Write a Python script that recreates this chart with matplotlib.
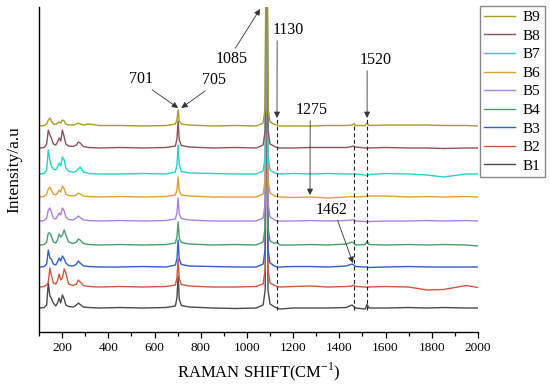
import matplotlib
matplotlib.use("Agg")
import matplotlib.pyplot as plt

plt.rcParams.update({
    "font.family": "Liberation Serif",
    "mathtext.fontset": "custom",
    "mathtext.rm": "Liberation Serif",
    "axes.spines.top": False,
    "axes.spines.right": False,
    "axes.linewidth": 1.0,
})

# Raman shift nodes (cm-1) shared by all spectra
shift = [105, 122, 133, 140, 147, 153, 162, 172, 180, 187, 194, 201, 209, 216, 228, 248, 262, 270, 278, 292, 315,
         360, 450, 550, 650, 690, 697, 702, 707, 716, 750, 850, 950, 1040,
         1070, 1079, 1085, 1091, 1100, 1120, 1130, 1142,
         1200, 1275, 1350, 1430, 1455, 1462, 1470, 1512, 1520, 1528, 1600, 1700, 1780, 1850, 1950, 2000]

# intensities above each sample's own baseline (a.u.)
b1 = [0, 0.5, 3, 25, 12, 10, 5, 2, 5, 10, 5, 13, 9, 3, 1.5, 1, 3, 5, 3.5, 1, 0.5,
      0, 0.5, 0, 0.5, 2, 10, 32, 9, 2.5, 1, 0, -0.5, 0,
      3, 18, 330, 18, 4, 1, 0, -1,
      0, 0, 0, 0.5, 3, 1.5, 0, -1, 3.5, 0, 0, 0.5, 0, 0.5, 0, 0]
b2 = [0, 0.5, 2, 5, 19, 12, 4, 3, 6, 13, 7, 9, 18, 14, 3, 1.5, 3, 7, 5, 1.5, 0.5,
      0, 0.5, 0, 0.5, 2, 9, 28, 8, 2.5, 1, 0, 0, 0.5,
      3, 18, 330, 18, 4, 1.5, 0.5, 0,
      0.5, 1, 0, 0.5, 1, 2, 0.5, 0, -0.5, 0, 0.5, 0, -3, -2.5, 1.5, -0.5]
b3 = [0, 0.5, 3, 17, 9, 8, 3, 2, 5, 9, 6, 11, 8, 4, 1.5, 1, 3, 6, 4, 1, 0.5,
      0, 0, 0.5, 0, 2, 8, 27, 8, 2.5, 1, 0.5, 0, 0,
      3, 18, 330, 18, 4, 1, 0, 0,
      0.5, 0.5, 0, 1, 3, 2, 0.5, 0, 0, -0.5, 0, 0.5, 0, 0, 0, 0]
b4 = [0, 0.5, 3, 12, 12, 9, 3, 2, 5, 11, 8, 10, 15, 10, 3, 1.5, 3, 6, 5, 1.5, 0.5,
      0, 0.5, 0, 0.5, 2, 8, 23, 7, 2.5, 1, 0, 0.5, 0,
      3, 18, 330, 18, 4, 1.5, 3, 0,
      0, 0.5, 0, 1, 3, 2, 0, 0.5, 4, 0.5, 0, 0.5, 0, 0.5, 0, -1]
b5 = [0, 0.5, 3, 11, 13, 9, 3, 2, 5, 8, 6, 13, 10, 4, 1.5, 1, 3, 5, 3.5, 1, 0.5,
      0, 0.5, 0, 0.5, 2, 8, 23, 7, 2.5, 1, 0, 0, 0,
      3, 18, 330, 18, 4, 1, 0, 0,
      0, 0.5, 0, 0.5, 1, 1.5, 0, -0.5, -1, -0.5, 0, 0, 0.5, 0, 0.5, 0]
b6 = [0, 0.5, 3, 8, 10, 7, 3, 2, 4, 7, 5, 11, 8, 3, 1.5, 1, 2, 4, 3, 1, 0.5,
      0, 0.5, 0, 0.5, 2, 7, 20, 6, 2, 1, 0, 0, 0,
      3, 18, 330, 18, 4, 1, 0.5, 0,
      -0.5, 0, -1, 0, 0.5, 0, 0, 0.5, 1, 1, 1, 0, 0.5, 0, 0.5, 0]
b7 = [0, 0.5, 4, 24, 14, 8, 5, 4, 7, 11, 8, 17, 14, 6, 3, 1.5, 3, 5, 7, 2, 0.5,
      0, 0, 0.5, 0, 2, 9, 29, 9, 2.5, 1, 0.5, 0, 0,
      3, 18, 330, 18, 4, 1, 0.5, 0,
      0.5, 0, 0.5, 0, 0, 0, 0, -1, -2, -0.5, 0.5, 0, -1, -3, 0, 0]
b8 = [0, 0.5, 4, 18, 13, 10, 4, 3, 6, 10, 7, 18, 11, 4, 2, 1.5, 3, 6, 5, 1.5, 0.5,
      0, 0.5, 0, 0.5, 2, 9, 27, 8, 2.5, 1, 0, 0.5, 0,
      3, 18, 330, 18, 4, 1.5, 0.5, 0,
      0, 0.5, 0.5, 0.5, 1.5, 2, 1, 0, 0, 0, 0.5, 0, 0, -0.5, 0, 0]
b9 = [0, 0.5, 2, 6, 8, 5, 2, 1.5, 3, 4, 3, 6, 5, 2, 1, 1, 2, 3, 2, 1, 2,
      0.5, 0.5, 0, 0.5, 2, 6, 16, 5, 2, 1, 0, 0.5, 0,
      3, 18, 330, 18, 4, 1.5, 1, 0,
      0, 0, 0.5, 0.5, 1, 2, 0.5, 0.5, 3, 0.5, 1, 1, 1, 0.5, 0.5, 0]

series = [b1, b2, b3, b4, b5, b6, b7, b8, b9]
labels = ["B1", "B2", "B3", "B4", "B5", "B6", "B7", "B8", "B9"]
offsets = [24, 45, 65, 87, 111, 135, 158, 184, 206]   # stacking baselines
colors = ["#4a4a4a", "#d2553e", "#2f5fc8", "#4a9e6c", "#a882e0",
          "#e0a035", "#22d4c6", "#8c5258", "#a89c22"]

# band annotations: label, arrow tip (x, y), text centre (x, y), arrow start on text (relpos)
bands = [
    ("701", (702, 224), (541, 253), (0.8, 0.0)),
    ("705", (716, 224), (857, 252), (0.3, 0.0)),
    ("1085", (1057, 323), (935, 273), (0.55, 1.0)),
    ("1130", (1130, 214), (1178, 302), (0.15, 0.0)),
    ("1520", (1520, 214), (1559, 272), (0.22, 0.0)),
    ("1275", (1273, 137), (1282, 222), (0.44, 0.0)),
    ("1462", (1459, 69), (1368, 122), (0.65, 0.0)),
]
dashed = [1130, 1462, 1520]
dashed_top = [214, 209, 214]

fig = plt.figure(figsize=(5.5, 3.89), dpi=100)
ax = fig.add_axes([0.071, 0.1465, 0.798, 0.8355])

handles = []
for y, off, c, lab in zip(series, offsets, colors, labels):
    h, = ax.plot(shift, [v + off for v in y], color=c, lw=1.0, label=lab)
    handles.append(h)

for x, top in zip(dashed, dashed_top):
    ax.vlines(x, 22, top, colors="#222", linestyles=(0, (3.5, 2.5)), lw=0.8)

for txt, tip, pos, rp in bands:
    ax.annotate(txt, xy=tip, xytext=pos, ha="center", va="center", fontsize=11.5,
                arrowprops=dict(arrowstyle="-|>", color="#333", lw=0.6,
                                mutation_scale=9, relpos=rp, shrinkA=0, shrinkB=0))

ax.set_xlim(100, 2000)
ax.set_ylim(0, 325)
ax.set_yticks([])
ax.set_xticks(range(200, 2001, 200))
ax.set_xticks(range(100, 2000, 200), minor=True)
ax.tick_params(axis="x", which="major", length=4.5, width=0.9, labelsize=9.5, pad=3)
ax.tick_params(axis="x", which="minor", length=3, width=0.9)
ax.set_xlabel("RAMAN SHIFT(CM$^{-1}$)", fontsize=12, labelpad=4)
ax.set_ylabel("Intensity/a.u", fontsize=12.5, labelpad=12)

fig.legend(handles[::-1], labels[::-1], loc="upper left", bbox_to_anchor=(0.872, 0.985),
           fontsize=11, frameon=True, fancybox=False, edgecolor="#888", framealpha=1,
           handlelength=2.0, handletextpad=0.5, labelspacing=0.32, borderpad=0.3,
           borderaxespad=0)

fig.savefig("out.png", dpi=100)
